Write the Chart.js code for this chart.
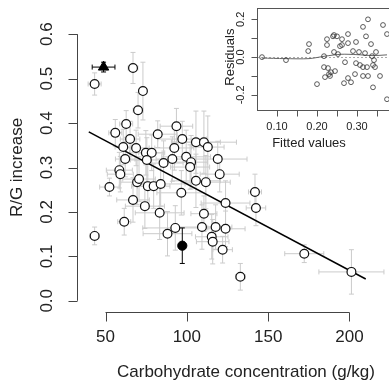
<!DOCTYPE html>
<html>
<head>
<meta charset="utf-8">
<script src="https://cdn.jsdelivr.net/npm/chart.js@4.4.1/dist/chart.umd.min.js"></script>
<style>
  html, body { margin: 0; padding: 0; background: #fff; overflow: hidden; }
  #wrap { position: relative; width: 389px; height: 382px; }
  #main { position: absolute; left: 0; top: 0; }
  #inset { position: absolute; left: 220px; top: 0; }
</style>
</head>
<body>
<div id="wrap">
  <canvas id="main" width="389" height="382"></canvas>
  <canvas id="inset" width="180" height="150"></canvas>
</div>
<script>
// main panel: carbohydrate (g/kg) vs R/G increase, with +- errors
var carb = [43.3, 66.9, 73.0, 70.0, 62.7, 56.0, 65.1, 60.9, 68.8, 74.8, 78.4, 75.4, 62.1, 82.1, 93.6, 97.2, 92.3, 91.1, 85.7, 99.6,
            102.6, 102.0, 105.6, 110.5, 112.9, 119.0, 120.2, 105.6, 111.7, 58.5, 59.1, 52.4, 69.4, 70.6, 76.0, 79.6, 83.9, 96.6, 66.9, 74.2,
            83.3, 61.5, 43.3, 92.9, 88.1, 141.9, 123.8, 142.5, 110.5, 109.3, 117.7, 123.8, 115.3, 115.9, 122.0, 132.9, 172.2, 201.2];
var rg = [0.488, 0.524, 0.472, 0.429, 0.398, 0.378, 0.364, 0.346, 0.344, 0.333, 0.333, 0.317, 0.319, 0.375, 0.393, 0.364, 0.344, 0.319, 0.310, 0.324,
          0.312, 0.301, 0.357, 0.357, 0.346, 0.319, 0.285, 0.270, 0.267, 0.294, 0.285, 0.256, 0.267, 0.274, 0.258, 0.258, 0.263, 0.243, 0.227, 0.213,
          0.198, 0.178, 0.146, 0.164, 0.151, 0.245, 0.220, 0.209, 0.196, 0.166, 0.166, 0.162, 0.144, 0.133, 0.115, 0.054, 0.106, 0.065];
var carbErr = [4, 3, 2, 3, 4, 4, 6, 5, 8, 10, 8, 10, 6, 12, 10, 15, 12, 10, 12, 15,
               10, 12, 15, 20, 10, 18, 12, 15, 15, 8, 8, 6, 10, 10, 10, 10, 15, 15, 10, 12,
               15, 4, 3, 20, 15, 4, 15, 6, 8, 15, 10, 12, 10, 10, 6, 3, 12, 20];
var rgErr = [0.025, 0.035, 0.065, 0.04, 0.03, 0.03, 0.04, 0.04, 0.04, 0.05, 0.04, 0.05, 0.04, 0.03, 0.04, 0.04, 0.05, 0.05, 0.05, 0.06,
             0.06, 0.05, 0.07, 0.07, 0.07, 0.04, 0.04, 0.06, 0.06, 0.04, 0.04, 0.02, 0.05, 0.05, 0.05, 0.05, 0.05, 0.05, 0.05, 0.05,
             0.06, 0.03, 0.02, 0.05, 0.05, 0.04, 0.05, 0.04, 0.04, 0.05, 0.05, 0.04, 0.05, 0.05, 0.03, 0.03, 0.02, 0.05];

// two highlighted points (triangle and filled circle)
var triCarb = [48.8], triRG = [0.526], triCarbErr = [7], triRGErr = [0.011];
var dotCarb = [97.2], dotRG = [0.124], dotCarbErr = [2], dotRGErr = [0.04];

// fitted regression line ends
var fitCarb = [39.7, 210];
var fitRG = [0.380, 0.049];

var xTicks = [50, 100, 150, 200];
var yTicks = [0, 0.1, 0.2, 0.3, 0.4, 0.5, 0.6];

// inset: residuals vs fitted
var fitted = [0.0625, 0.1225, 0.18, 0.178, 0.20, 0.2175, 0.2175, 0.22, 0.225, 0.225, 0.2275, 0.23, 0.2325, 0.235, 0.24, 0.245, 0.2425, 0.2425,
              0.25, 0.2525, 0.2575, 0.2625, 0.2625, 0.27, 0.2675, 0.2775, 0.2775, 0.2775, 0.285, 0.29, 0.2975, 0.2975, 0.295, 0.305, 0.3075,
              0.315, 0.315, 0.315, 0.32, 0.3225, 0.325, 0.3275, 0.3275, 0.335, 0.3375, 0.34, 0.34, 0.3425, 0.345, 0.3475, 0.3575, 0.365, 0.375, 0.375];
var resid = [0, -0.016, 0.069, 0.032, -0.143, 0.005, -0.053, -0.106, 0.064, 0.095, -0.058, -0.09, -0.10, -0.08, 0.11, -0.074, 0.027, 0.117,
             0.11, 0.016, 0.058, 0.064, 0.095, -0.027, -0.138, 0.122, 0.074, -0.111, -0.133, 0.032, 0.08, -0.032, -0.09, 0.027, -0.042,
             0.16, -0.053, -0.10, 0.021, 0.11, -0.053, 0.20, -0.10, 0.069, 0.005, -0.16, -0.042, -0.016, -0.053, 0.027, -0.10, 0.17, 0.122, -0.223];
var smoothX = [0.0625, 0.12, 0.18, 0.22, 0.26, 0.30, 0.34, 0.375];
var smoothY = [-0.005, -0.008, -0.008, 0.005, 0.015, 0.013, 0.008, 0.012];
var insetXTicks = [0.10, 0.15, 0.20, 0.25, 0.30, 0.35];
var insetXLabels = [0.10, 0.20, 0.30];
var insetYTicks = [-0.2, -0.1, 0, 0.1, 0.2];
var insetYLabels = [-0.2, 0, 0.2];

var FONT = '"Liberation Sans", Arial, sans-serif';

function pts(xs, ys) {
  return xs.map(function (v, i) { return { x: v, y: ys[i] }; });
}

function bars(ctx, xs, ys, xe, ye, color) {
  var sx = ctx.chart.scales.x, sy = ctx.chart.scales.y;
  var c = ctx.ctx;
  c.strokeStyle = color;
  c.lineWidth = 1;
  for (var i = 0; i < xs.length; i++) {
    var px = sx.getPixelForValue(xs[i]), py = sy.getPixelForValue(ys[i]);
    var x0 = sx.getPixelForValue(xs[i] - xe[i]), x1 = sx.getPixelForValue(xs[i] + xe[i]);
    var y0 = sy.getPixelForValue(ys[i] - ye[i]), y1 = sy.getPixelForValue(ys[i] + ye[i]);
    c.beginPath();
    c.moveTo(x0, py); c.lineTo(x1, py);
    c.moveTo(x0, py - 2.5); c.lineTo(x0, py + 2.5);
    c.moveTo(x1, py - 2.5); c.lineTo(x1, py + 2.5);
    c.moveTo(px, y0); c.lineTo(px, y1);
    c.moveTo(px - 2.5, y0); c.lineTo(px + 2.5, y0);
    c.moveTo(px - 2.5, y1); c.lineTo(px + 2.5, y1);
    c.stroke();
  }
}

var errorBars = {
  id: 'errorBars',
  beforeDatasetsDraw: function (chart) {
    var c = chart.ctx;
    c.save();
    var o = { chart: chart, ctx: c };
    bars(o, carb, rg, carbErr, rgErr, '#cbcbcb');
    bars(o, triCarb, triRG, triCarbErr, triRGErr, '#000');
    bars(o, dotCarb, dotRG, dotCarbErr, dotRGErr, '#000');
    c.restore();
  }
};

// R style axes: line only from first to last tick, ticks outward
var rAxes = {
  id: 'rAxes',
  afterDraw: function (chart) {
    var c = chart.ctx, sx = chart.scales.x, sy = chart.scales.y;
    var axX = 77.5, axY = 312.5;
    c.save();
    c.strokeStyle = '#444';
    c.lineWidth = 1;
    c.beginPath();
    c.moveTo(axX, sy.getPixelForValue(yTicks[0]));
    c.lineTo(axX, sy.getPixelForValue(yTicks[yTicks.length - 1]));
    yTicks.forEach(function (t) {
      var p = Math.round(sy.getPixelForValue(t)) + 0.5;
      c.moveTo(axX, p); c.lineTo(axX - 9, p);
    });
    c.moveTo(sx.getPixelForValue(xTicks[0]), axY);
    c.lineTo(sx.getPixelForValue(xTicks[xTicks.length - 1]), axY);
    xTicks.forEach(function (t) {
      var p = Math.round(sx.getPixelForValue(t)) + 0.5;
      c.moveTo(p, axY); c.lineTo(p, axY + 9);
    });
    c.stroke();

    c.fillStyle = '#222';
    c.font = '17px ' + FONT;
    c.textAlign = 'center';
    c.textBaseline = 'middle';
    xTicks.forEach(function (t) {
      c.fillText(String(t), sx.getPixelForValue(t), 337);
    });
    yTicks.forEach(function (t) {
      c.save();
      c.translate(47, sy.getPixelForValue(t));
      c.rotate(-Math.PI / 2);
      c.fillText(t.toFixed(1), 0, 0);
      c.restore();
    });
    c.fillText('Carbohydrate concentration (g/kg)', 246, 372);
    c.save();
    c.translate(17, (chart.chartArea.top + chart.chartArea.bottom) / 2);
    c.rotate(-Math.PI / 2);
    c.fillText('R/G increase', 0, 0);
    c.restore();
    c.restore();
  }
};

new Chart(document.getElementById('main'), {
  type: 'scatter',
  data: {
    datasets: [
      { data: pts(triCarb, triRG), pointStyle: 'triangle', pointRadius: 6, backgroundColor: '#000', borderColor: '#000', borderWidth: 1 },
      { data: pts(dotCarb, dotRG), pointRadius: 4.6, backgroundColor: '#000', borderColor: '#000', borderWidth: 1 },
      { data: pts(carb, rg), pointRadius: 4.4, backgroundColor: '#fff', borderColor: '#111', borderWidth: 1.2 },
      { type: 'line', data: pts(fitCarb, fitRG), borderColor: '#000', borderWidth: 1.5, pointRadius: 0, fill: false }
    ]
  },
  options: {
    responsive: false,
    animation: false,
    layout: { padding: { left: 73, right: 2, top: 12, bottom: 59 } },
    plugins: { legend: { display: false }, tooltip: { enabled: false } },
    scales: {
      x: { type: 'linear', min: 30, max: 220, display: false },
      y: { type: 'linear', min: -0.05, max: 0.65, display: false }
    }
  },
  plugins: [errorBars, rAxes]
});

var insetFrame = {
  id: 'insetFrame',
  beforeDatasetsDraw: function (chart) {
    var c = chart.ctx, a = chart.chartArea, sy = chart.scales.y;
    c.save();
    c.fillStyle = '#fff';
    c.fillRect(a.left, a.top, a.right - a.left, a.bottom - a.top);
    // zero reference line
    c.strokeStyle = '#aaa';
    c.setLineDash([2, 2]);
    c.beginPath();
    var z = Math.round(sy.getPixelForValue(0)) + 0.5;
    c.moveTo(a.left, z); c.lineTo(a.right, z);
    c.stroke();
    c.restore();
  },
  afterDraw: function (chart) {
    var c = chart.ctx, a = chart.chartArea, sx = chart.scales.x, sy = chart.scales.y;
    c.save();
    c.strokeStyle = '#555';
    c.lineWidth = 1;
    var L = Math.round(a.left) + 0.5, T = Math.round(a.top) + 0.5, B = Math.round(a.bottom) + 0.5;
    c.strokeRect(L, T, Math.round(a.right - a.left), B - T);
    c.beginPath();
    insetYTicks.forEach(function (t) {
      var p = Math.round(sy.getPixelForValue(t)) + 0.5;
      c.moveTo(L, p); c.lineTo(L - 6, p);
    });
    insetXTicks.forEach(function (t) {
      var p = Math.round(sx.getPixelForValue(t)) + 0.5;
      c.moveTo(p, B); c.lineTo(p, B + 6);
    });
    c.stroke();
    c.fillStyle = '#222';
    c.font = '11px ' + FONT;
    c.textAlign = 'center';
    c.textBaseline = 'middle';
    insetXLabels.forEach(function (t) {
      c.fillText(t.toFixed(2), sx.getPixelForValue(t), 127);
    });
    insetYLabels.forEach(function (t) {
      c.save();
      c.translate(21, sy.getPixelForValue(t));
      c.rotate(-Math.PI / 2);
      c.fillText(t.toFixed(1), 0, 0);
      c.restore();
    });
    c.font = '13px ' + FONT;
    c.fillText('Fitted values', 89, 143);
    c.save();
    c.translate(10, sy.getPixelForValue(0));
    c.rotate(-Math.PI / 2);
    c.fillText('Residuals', 0, 0);
    c.restore();
    c.restore();
  }
};

new Chart(document.getElementById('inset'), {
  type: 'scatter',
  data: {
    datasets: [
      { data: pts(fitted, resid), pointRadius: 2.4, backgroundColor: 'rgba(255,255,255,0)', borderColor: '#333', borderWidth: 0.8 },
      { type: 'line', data: pts(smoothX, smoothY), borderColor: '#666', borderWidth: 1, pointRadius: 0, fill: false, tension: 0.3 }
    ]
  },
  options: {
    responsive: false,
    animation: false,
    layout: { padding: { left: 37, right: 8, top: 8, bottom: 40 } },
    plugins: { legend: { display: false }, tooltip: { enabled: false } },
    scales: {
      x: { type: 'linear', min: 0.05, max: 0.3875, display: false },
      y: { type: 'linear', min: -0.28, max: 0.26, display: false }
    }
  },
  plugins: [insetFrame]
});
</script>
</body>
</html>
